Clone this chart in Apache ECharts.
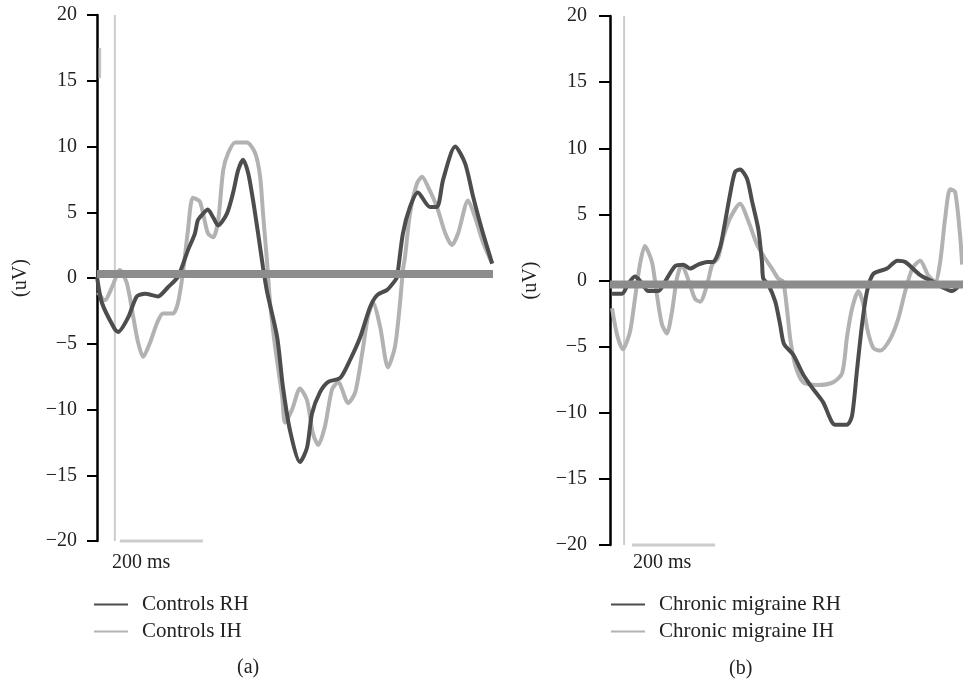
<!DOCTYPE html>
<html>
<head>
<meta charset="utf-8">
<script src="https://cdn.jsdelivr.net/npm/echarts@6/dist/echarts.min.js"></script>
<style>html,body{margin:0;padding:0;background:#fff}#c{width:963px;height:684px}</style>
</head>
<body>
<div id="c"></div>
<script>
// ---- Data (time in ms from the left axis edge, amplitude in uV) ----
const yTicks = [-20, -15, -10, -5, 0, 5, 10, 15, 20];
const panelLabels = ['(a)', '(b)'];
const seriesNames = ['Controls RH', 'Controls IH', 'Chronic migraine RH', 'Chronic migraine IH'];
const timeMax = [954, 850];
const stimulusOnset = [43, 34];
const scaleBar = [[55, 255], [53, 253]];
const scaleBarLabel = '200 ms';
const baselineLevel = [0.3, -0.3];
const leftTopFragment = [[7, 17.5], [7, 15.2]];

const controlsRH = [[0,0.1],[12,-1.9],[43,-3.9],[51,-4.1],[75,-3.0],[96,-1.4],[116,-1.2],[147,-1.4],[171,-0.7],[195,0.1],[219,2.1],[236,3.4],[243,4.4],[253,4.8],[267,5.2],[280,4.6],[292,4.0],[313,4.9],[328,6.5],[340,8.2],[352,9.0],[364,8.0],[376,5.9],[388,3.4],[400,0.8],[410,-1.1],[434,-4.5],[448,-8.3],[465,-11.6],[489,-14.0],[506,-12.9],[518,-10.3],[537,-8.7],[557,-7.9],[586,-7.6],[610,-6.2],[634,-4.5],[658,-2.2],[675,-1.3],[699,-0.9],[718,-0.2],[723,0.1],[737,3.4],[754,5.4],[773,6.5],[802,5.4],[819,5.4],[834,7.5],[863,10.0],[887,8.7],[906,6.2],[928,3.6],[952,1.1]];
const controlsIH = [[2,-1.1],[19,-1.7],[36,-0.7],[55,0.6],[72,-0.4],[87,-2.9],[99,-4.9],[111,-6.0],[128,-4.9],[145,-3.4],[159,-2.7],[183,-2.7],[195,-1.9],[207,0.4],[219,3.6],[231,6.1],[248,5.8],[267,3.4],[280,3.1],[292,4.4],[304,8.2],[316,9.5],[333,10.3],[361,10.3],[381,9.5],[393,7.7],[400,4.9],[410,1.1],[417,-1.9],[429,-5.2],[446,-9.0],[453,-11.0],[470,-10.0],[489,-8.4],[506,-9.3],[520,-11.8],[533,-12.7],[549,-11.3],[566,-8.5],[581,-7.9],[605,-9.5],[622,-8.7],[639,-5.7],[653,-2.9],[665,-1.9],[682,-3.7],[701,-6.8],[718,-5.2],[730,-1.9],[737,0.6],[742,1.6],[754,4.9],[771,7.2],[783,7.7],[798,6.9],[819,5.4],[839,3.4],[855,2.5],[870,3.4],[894,5.9],[911,4.6],[930,2.7],[952,1.1]];
const migraineRH = [[5,-1.0],[29,-1.0],[43,-0.3],[60,0.3],[77,-0.2],[92,-0.8],[116,-0.8],[137,0.15],[157,1.1],[176,1.2],[193,0.9],[212,1.2],[234,1.4],[248,1.4],[265,2.5],[277,4.4],[289,6.5],[301,8.2],[313,8.4],[330,7.7],[342,6.0],[357,3.9],[366,1.4],[369,0.15],[381,-0.3],[398,-1.6],[410,-3.4],[419,-4.8],[441,-5.6],[465,-7.1],[489,-8.2],[513,-9.2],[542,-10.9],[571,-10.9],[583,-10.2],[595,-6.7],[607,-3.3],[619,-0.8],[634,0.5],[667,0.9],[692,1.5],[711,1.4],[747,0.4],[778,-0.1],[800,-0.5],[824,-0.8],[843,-0.3]];
const migraineIH = [[5,-2.1],[17,-4.1],[31,-5.2],[48,-3.9],[60,-1.4],[72,1.2],[84,2.6],[101,1.4],[113,-1.1],[125,-3.3],[137,-4.0],[149,-2.4],[161,0.15],[173,1.2],[188,0.1],[205,-1.4],[217,-1.6],[234,-0.3],[246,1.2],[260,1.7],[272,3.2],[289,4.7],[313,5.8],[333,4.5],[354,2.7],[373,1.7],[390,0.9],[405,0.15],[417,-0.1],[427,-2.4],[434,-4.4],[446,-6.4],[465,-7.7],[499,-7.9],[537,-7.7],[559,-7.0],[571,-4.2],[583,-2.1],[598,-0.8],[610,-1.8],[619,-3.6],[634,-5.1],[651,-5.3],[675,-4.4],[694,-2.9],[711,-0.8],[728,0.9],[747,1.5],[766,0.4],[783,-0.1],[795,1.4],[807,4.7],[819,6.9],[831,6.7],[843,3.4],[848,1.2]];

// ---- Styles ----
const FONT = '"Liberation Serif", "DejaVu Serif", serif';
const DARK = '#4d4d4d';
const LIGHT = '#b2b2b2';
const BASE = '#8c8c8c';
const MARK = '#cccccc';

const chart = echarts.init(document.getElementById('c'), null, {renderer: 'canvas'});

function yAxisFor(gi, margin, tickLen, gap) {
  return {
    type: 'value', gridIndex: gi, min: yTicks[0], max: yTicks[yTicks.length - 1], interval: 5,
    name: '(uV)', nameLocation: 'middle', nameRotate: 90, nameGap: gap,
    nameTextStyle: {fontFamily: FONT, fontSize: 20, color: '#222'},
    axisLine: {show: true, lineStyle: {color: '#000', width: 2.5}},
    axisTick: {show: true, length: tickLen, lineStyle: {color: '#000', width: 2}},
    axisLabel: {margin: margin, fontFamily: FONT, fontSize: 20, color: '#222',
      formatter: v => String(v).replace('-', '\u2212')},
    splitLine: {show: false}
  };
}
function xAxisFor(gi) {
  return {type: 'value', gridIndex: gi, min: 0, max: timeMax[gi], show: false};
}
function lineSeries(name, data, gi, color, z) {
  return {name: name, type: 'line', xAxisIndex: gi, yAxisIndex: gi, data: data,
    showSymbol: false, symbol: 'none', smooth: 0.25, clip: false, z: z,
    lineStyle: {color: color, width: 4}, itemStyle: {color: color}, emphasis: {disabled: true}};
}
function plainLine(data, gi, color, width, z) {
  return {type: 'line', xAxisIndex: gi, yAxisIndex: gi, data: data, showSymbol: false,
    symbol: 'none', clip: false, z: z, silent: true, lineStyle: {color: color, width: width},
    emphasis: {disabled: true}};
}

const series = [];
[0, 1].forEach(gi => {
  series.push(plainLine([[stimulusOnset[gi], yTicks[0]], [stimulusOnset[gi], yTicks[yTicks.length - 1]]], gi, MARK, 2, 1));
  series.push(plainLine([[scaleBar[gi][0], yTicks[0]], [scaleBar[gi][1], yTicks[0]]], gi, MARK, 3, 1));
});
series.push(plainLine(leftTopFragment, 0, '#c4c4c4', 2.5, 1));
series.push(lineSeries(seriesNames[1], controlsIH, 0, LIGHT, 2));
series.push(lineSeries(seriesNames[0], controlsRH, 0, DARK, 3));
series.push(lineSeries(seriesNames[3], migraineIH, 1, LIGHT, 2));
series.push(lineSeries(seriesNames[2], migraineRH, 1, DARK, 3));
[0, 1].forEach(gi => {
  series.push(plainLine([[0, baselineLevel[gi]], [timeMax[gi], baselineLevel[gi]]], gi, BASE, 8, 4));
});

function legendFor(left, names) {
  return {
    left: left, top: 594, orient: 'vertical', padding: 0, itemGap: 6,
    itemWidth: 34, itemHeight: 2, icon: 'rect', selectedMode: false,
    textStyle: {fontFamily: FONT, fontSize: 21, color: '#222', padding: [0, 0, 0, 9]},
    data: names
  };
}

const textStyle = (t) => ({text: t, font: '20px ' + FONT, fill: '#222'});

chart.setOption({
  animation: false,
  backgroundColor: '#fff',
  grid: [
    {left: 97, top: 15, width: 396, height: 526},
    {left: 610, top: 16, width: 353, height: 529}
  ],
  xAxis: [xAxisFor(0), xAxisFor(1)],
  yAxis: [yAxisFor(0, 20, 10, 66), yAxisFor(1, 23, 11, 69)],
  legend: [legendFor(94, [seriesNames[0], seriesNames[1]]), legendFor(611, [seriesNames[2], seriesNames[3]])],
  graphic: [
    {type: 'text', left: 112, top: 553, style: textStyle(scaleBarLabel)},
    {type: 'text', left: 633, top: 553, style: textStyle(scaleBarLabel)},
    {type: 'text', left: 237, top: 658, style: textStyle(panelLabels[0])},
    {type: 'text', left: 729, top: 659, style: textStyle(panelLabels[1])}
  ],
  series: series
});
</script>
</body>
</html>
